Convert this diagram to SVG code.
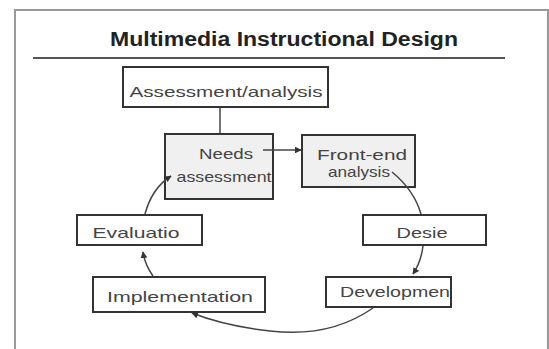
<svg xmlns="http://www.w3.org/2000/svg" width="549" height="349" viewBox="0 0 549 349">
<style>
.box{fill:#fff;stroke:#333;stroke-width:2}
.shade{fill:#f0f0f0;stroke:#333;stroke-width:2}
.lbl{font-family:"Liberation Sans",Arial,sans-serif;font-size:15px;fill:#444}
.con{fill:none;stroke:#444;stroke-width:1.5}
</style>
<defs>
<marker id="ah" viewBox="0 0 10 10" refX="9" refY="5" markerWidth="4.5" markerHeight="4.5" orient="auto-start-reverse">
<path d="M0,0 L10,5 L0,10 z" fill="#333"/>
</marker>
</defs>
<rect width="549" height="349" fill="#fff"/>
<path d="M15,349 V10 H548 V349" fill="none" stroke="#999" stroke-width="2"/>
<text x="284" y="46" text-anchor="middle" font-family="Liberation Sans,Arial,sans-serif" font-size="20" font-weight="bold" fill="#222" textLength="348" lengthAdjust="spacingAndGlyphs">Multimedia Instructional Design</text>
<line x1="33" y1="58" x2="505" y2="58" stroke="#555" stroke-width="2"/>
<g id="assessment-analysis">
<rect class="box" x="123" y="67" width="205" height="40"/>
<text class="lbl" x="226" y="97" text-anchor="middle" textLength="193" lengthAdjust="spacingAndGlyphs">Assessment/analysis</text>
</g>
<g id="needs-assessment">
<rect class="shade" x="165" y="134" width="108" height="65"/>
<text class="lbl" x="226" y="159" text-anchor="middle" textLength="54" lengthAdjust="spacingAndGlyphs">Needs</text>
<text class="lbl" x="224" y="182" text-anchor="middle" textLength="95" lengthAdjust="spacingAndGlyphs">assessment</text>
</g>
<g id="front-end-analysis">
<rect class="shade" x="302" y="135" width="113" height="52"/>
<text class="lbl" x="362" y="160" text-anchor="middle" textLength="90" lengthAdjust="spacingAndGlyphs">Front-end</text>
<text class="lbl" x="359" y="177" text-anchor="middle" textLength="62" lengthAdjust="spacingAndGlyphs">analysis</text>
</g>
<g id="design">
<rect class="box" x="363" y="215" width="123" height="30"/>
<text class="lbl" x="422" y="238" text-anchor="middle" textLength="51" lengthAdjust="spacingAndGlyphs">Desie</text>
</g>
<g id="development">
<rect class="box" x="326" y="277" width="125" height="30"/>
<text class="lbl" x="395" y="297" text-anchor="middle" textLength="110" lengthAdjust="spacingAndGlyphs">Developmen</text>
</g>
<g id="implementation">
<rect class="box" x="93" y="277" width="172" height="35"/>
<text class="lbl" x="180" y="302" text-anchor="middle" textLength="146" lengthAdjust="spacingAndGlyphs">Implementation</text>
</g>
<g id="evaluation">
<rect class="box" x="77" y="215" width="125" height="30"/>
<text class="lbl" x="136" y="238" text-anchor="middle" textLength="87" lengthAdjust="spacingAndGlyphs">Evaluatio</text>
</g>
<g id="connectors">
<line class="con" x1="220" y1="108" x2="220" y2="133"/>
<line class="con" x1="263" y1="150" x2="301" y2="150" marker-end="url(#ah)"/>
<path class="con" d="M392,172 Q414,190 421,214"/>
<path class="con" d="M145,214 Q152,188 171,176" marker-end="url(#ah)"/>
<path class="con" d="M153,276 Q145,265 143,252" marker-end="url(#ah)"/>
<path class="con" d="M423,246 Q421,262 413,274" marker-end="url(#ah)"/>
<path class="con" d="M373,308 Q330,338 270,331 Q225,326 192,313" marker-end="url(#ah)"/>
</g>
</svg>
